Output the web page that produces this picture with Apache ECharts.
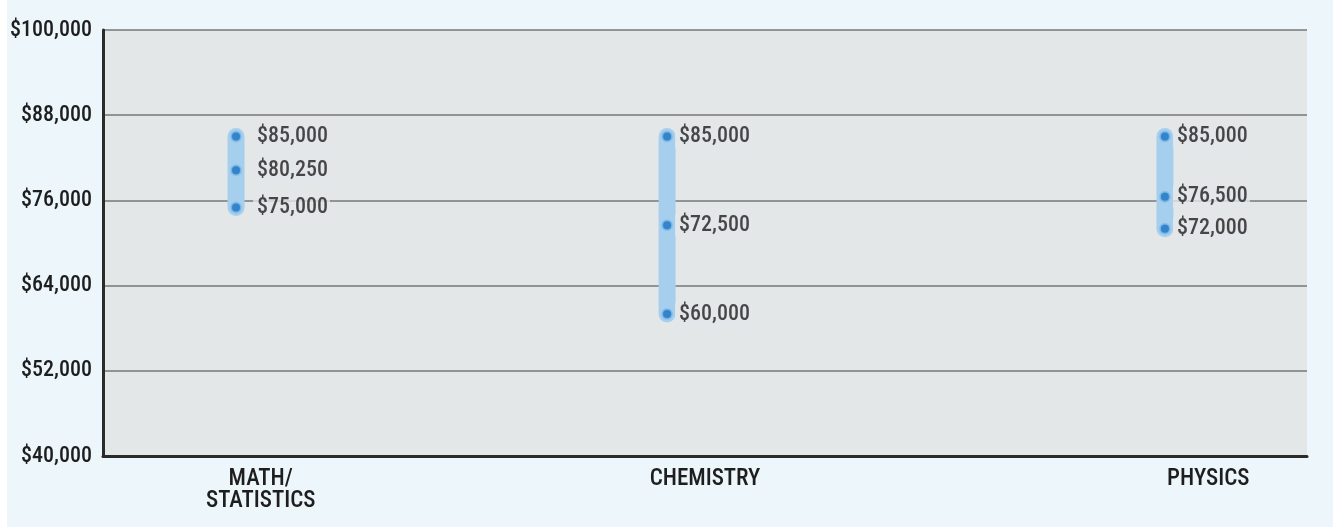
<!DOCTYPE html>
<html>
<head>
<meta charset="utf-8">
<script src="https://cdn.jsdelivr.net/npm/echarts@6/dist/echarts.min.js"></script>
<style>
  html, body { margin: 0; padding: 0; background: #ffffff; }
  #chart { position: absolute; left: 7px; top: 0; width: 1326px; height: 527px; background: #ecf6fb; }
</style>
</head>
<body>
<div id="chart"></div>
<script>
// data
const categories = ["MATH/\nSTATISTICS", "CHEMISTRY", "PHYSICS"];
const lowValues = [75000, 60000, 72000];
const midValues = [80250, 72500, 76500];
const highValues = [85000, 85000, 85000];

// layout (x axis runs 0..100 across the plot)
const pointPos = [11.05, 46.85, 88.2];
const labelPos = [13.1, 50.0, 91.8];
const labelGap = [11, 2, 2];

const FONT = "'Roboto Condensed', 'Roboto', 'DejaVu Sans Condensed', sans-serif";
const money = (v) => "$" + Number(v).toLocaleString("en-US");

const points = [];
categories.forEach((c, i) => {
  [highValues[i], midValues[i], lowValues[i]].forEach((v) => {
    points.push({
      value: [pointPos[i], v],
      label: { distance: labelGap[i] },
    });
  });
});

const chartDom = document.getElementById("chart");
const myChart = echarts.init(chartDom);

const option = {
  animation: false,
  textStyle: { fontFamily: FONT },
  grid: {
    left: 96,
    right: 26,
    top: 30,
    bottom: 71,
    containLabel: false,
    outerBoundsMode: "none",
    show: true,
    backgroundColor: "#e4e7e8",
    borderWidth: 0,
  },
  xAxis: {
    type: "value",
    min: 0,
    max: 100,
    axisLine: { show: true, onZero: false, lineStyle: { color: "#2a2a2a", width: 3 } },
    axisTick: { show: false },
    splitLine: { show: false },
    axisLabel: {
      customValues: labelPos,
      formatter: (v) => categories[labelPos.indexOf(v)] || "",
      fontFamily: FONT,
      fontSize: 23,
      fontWeight: 500,
      lineHeight: 22,
      color: "#1e1e1e",
      margin: 12,
      verticalAlign: "top",
    },
  },
  yAxis: {
    type: "value",
    min: 40000,
    max: 100000,
    interval: 12000,
    axisLine: { show: true, lineStyle: { color: "#2a2a2a", width: 3 } },
    axisTick: { show: false },
    splitLine: { lineStyle: { color: "#777777", width: 1.5 } },
    axisLabel: {
      formatter: money,
      fontFamily: FONT,
      fontSize: 22,
      fontWeight: 500,
      color: "#1e1e1e",
      margin: 11,
    },
  },
  series: [
    {
      type: "custom",
      z: 2,
      encode: { x: 0, y: [1, 2] },
      data: categories.map((c, i) => [pointPos[i], lowValues[i], highValues[i]]),
      renderItem: function (params, api) {
        const top = api.coord([api.value(0), api.value(2)]);
        const bot = api.coord([api.value(0), api.value(1)]);
        const w = 17;
        return {
          type: "rect",
          shape: {
            x: top[0] - w / 2,
            y: top[1] - w / 2,
            width: w,
            height: bot[1] - top[1] + w,
            r: w / 2,
          },
          style: { fill: "#a6cfee" },
        };
      },
    },
    {
      type: "scatter",
      z: 3,
      symbolSize: 10,
      itemStyle: { color: "#1672c2", borderColor: "#86bde8", borderWidth: 2 },
      label: {
        show: true,
        position: "right",
        formatter: (p) => money(p.value[1]),
        fontFamily: FONT,
        fontSize: 22,
        fontWeight: 500,
        color: "#1e1e1e",
        backgroundColor: "#e4e7e8",
        padding: [0, 2, 0, 4],
      },
      data: points,
    },
  ],
};

myChart.setOption(option);

window.addEventListener("resize", function () {
  myChart.resize();
});
</script>
</body>
</html>
